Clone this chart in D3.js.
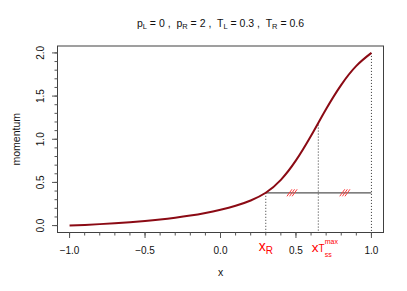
<!DOCTYPE html>
<html>
<head>
<meta charset="utf-8">
<script src="https://cdn.jsdelivr.net/npm/d3@7"></script>
<style>
  html, body { margin: 0; padding: 0; background: #fff; }
  svg { display: block; font-family: "Liberation Sans", Arial, Helvetica, sans-serif; }
</style>
</head>
<body>
<div id="chart"></div>
<script>
// Momentum curve
const xs = [-1.0, -0.9, -0.8, -0.7, -0.6, -0.5, -0.4, -0.3, -0.2, -0.1, 0.0,
            0.1, 0.2, 0.3, 0.4, 0.5, 0.6, 0.7, 0.8, 0.9, 1.0];
const momentum = [0.000, 0.008, 0.017, 0.027, 0.039, 0.053, 0.070, 0.091, 0.116, 0.147, 0.184,
                  0.229, 0.291, 0.380, 0.530, 0.755, 1.040, 1.350, 1.630, 1.850, 2.000];

const xTicks = [-1, -0.5, 0, 0.5, 1];
const yTicks = [0, 0.5, 1, 1.5, 2];

// title parameters: [symbol, subscript, value]
const params = [["p", "L", "0"], ["p", "R", "2"], ["T", "L", "0.3"], ["T", "R", "0.6"]];

// marked points
const xR = 0.3, pAtR = 0.38;
const xTss = 0.648, pAtTss = 1.17;
const xEnd = 1.0, pAtEnd = 2.0;

const W = 407, H = 291;
const plot = { left: 57.5, right: 383.5, top: 46, bottom: 232.5 };

const svg = d3.select("#chart").append("svg")
  .attr("width", W).attr("height", H);

// R-style 4% padding on both axes
const x = d3.scaleLinear().domain([-1.08, 1.08]).range([plot.left, plot.right]);
const y = d3.scaleLinear().domain([-0.08, 2.08]).range([plot.bottom, plot.top]);

const pts = xs.map((v, i) => [v, momentum[i]]);

// dotted drop lines
const drops = [[xR, pAtR], [xTss, pAtTss], [xEnd, pAtEnd]];
svg.selectAll("line.drop")
  .data(drops).join("line").attr("class", "drop")
  .attr("x1", d => x(d[0])).attr("x2", d => x(d[0]))
  .attr("y1", d => y(d[1])).attr("y2", plot.bottom)
  .attr("stroke", "#333").attr("stroke-width", 1)
  .attr("stroke-dasharray", "1,2");

// horizontal line from x_R to the end
svg.append("line")
  .attr("x1", x(xR)).attr("x2", x(xEnd))
  .attr("y1", y(pAtR)).attr("y2", y(pAtR))
  .attr("stroke", "#555").attr("stroke-width", 1.3);

// equal-length marks (///) at midpoints of the two pieces
const mids = [(xR + xTss) / 2, (xTss + xEnd) / 2];
mids.forEach(m => {
  const cx = x(m), cy = y(pAtR);
  [-2.6, 0, 2.6].forEach(o => {
    svg.append("line")
      .attr("x1", cx + o - 2.5).attr("y1", cy + 3.5)
      .attr("x2", cx + o + 2.5).attr("y2", cy - 3.5)
      .attr("stroke", "#ff3b3b").attr("stroke-width", 1);
  });
});

// the curve
svg.append("path")
  .datum(pts)
  .attr("fill", "none")
  .attr("stroke", "#8b0a14")
  .attr("stroke-width", 2)
  .attr("d", d3.line().x(d => x(d[0])).y(d => y(d[1])).curve(d3.curveNatural));

// box
svg.append("rect")
  .attr("x", plot.left).attr("y", plot.top)
  .attr("width", plot.right - plot.left).attr("height", plot.bottom - plot.top)
  .attr("fill", "none").attr("stroke", "#404040").attr("stroke-width", 1);

// x axis ticks
const xMinor = d3.range(-10, 11).map(i => i / 10);
svg.selectAll("line.xminor")
  .data(xMinor).join("line").attr("class", "xminor")
  .attr("x1", d => x(d)).attr("x2", d => x(d))
  .attr("y1", plot.bottom).attr("y2", plot.bottom + 3)
  .attr("stroke", "#555");
svg.selectAll("line.xmajor")
  .data(xTicks).join("line").attr("class", "xmajor")
  .attr("x1", d => x(d)).attr("x2", d => x(d))
  .attr("y1", plot.bottom).attr("y2", plot.bottom + 5.5)
  .attr("stroke", "#555");
svg.selectAll("text.xlab")
  .data(xTicks).join("text").attr("class", "xlab")
  .attr("x", d => x(d)).attr("y", 253.5)
  .attr("text-anchor", "middle").attr("font-size", 10).attr("fill", "#111")
  .text(d => d3.format(".1f")(d));

// y axis ticks
const yMinor = d3.range(0, 21).map(i => i / 10);
svg.selectAll("line.yminor")
  .data(yMinor).join("line").attr("class", "yminor")
  .attr("x1", plot.left).attr("x2", plot.left - 3)
  .attr("y1", d => y(d)).attr("y2", d => y(d))
  .attr("stroke", "#555");
svg.selectAll("line.ymajor")
  .data(yTicks).join("line").attr("class", "ymajor")
  .attr("x1", plot.left).attr("x2", plot.left - 5.5)
  .attr("y1", d => y(d)).attr("y2", d => y(d))
  .attr("stroke", "#555");
svg.selectAll("text.ylab")
  .data(yTicks).join("text").attr("class", "ylab")
  .attr("transform", d => `translate(43.5,${y(d)}) rotate(-90)`)
  .attr("text-anchor", "middle").attr("font-size", 10).attr("fill", "#111")
  .text(d => d3.format(".1f")(d));

// axis titles
svg.append("text")
  .attr("x", (plot.left + plot.right) / 2).attr("y", 276)
  .attr("text-anchor", "middle").attr("font-size", 10.5).attr("fill", "#111")
  .text("x");
svg.append("text")
  .attr("transform", `translate(20,${(plot.top + plot.bottom) / 2}) rotate(-90)`)
  .attr("text-anchor", "middle").attr("font-size", 10.5).attr("fill", "#111")
  .text("momentum");

// title with subscripts
const title = svg.append("text")
  .attr("x", (plot.left + plot.right) / 2).attr("y", 26.5)
  .attr("text-anchor", "middle").attr("font-size", 10.5).attr("fill", "#111")
  .attr("xml:space", "preserve");
params.forEach((p, i) => {
  title.append("tspan").text(p[0]);
  title.append("tspan").attr("font-size", 7.5).attr("dy", 2).text(p[1]);
  title.append("tspan").attr("dy", -2).text(" = " + p[2] + (i < params.length - 1 ? " ,  " : ""));
});

// red labels under the axis
const lR = svg.append("text")
  .attr("x", x(xR)).attr("y", 251)
  .attr("text-anchor", "middle").attr("fill", "#ff0000").attr("font-size", 14);
lR.append("tspan").text("x");
lR.append("tspan").attr("font-size", 10).attr("dy", 3).text("R");

const lT = svg.append("text")
  .attr("x", x(xTss) - 6.5).attr("y", 252.3)
  .attr("fill", "#ff0000").attr("font-size", 13.5);
lT.append("tspan").text("x");
lT.append("tspan").attr("font-size", 10).text("T");
lT.append("tspan").attr("font-size", 7).attr("dy", -8.5).text("max");
lT.append("tspan").attr("font-size", 7).attr("x", x(xTss) + 6.5).attr("dy", 13).text("ss");
</script>
</body>
</html>
